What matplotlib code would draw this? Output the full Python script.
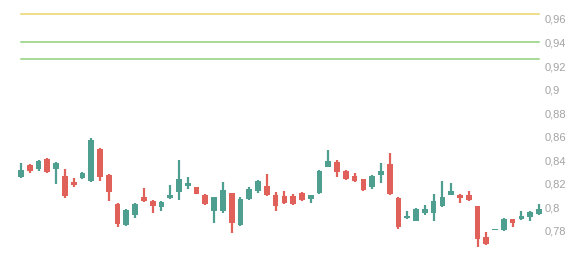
import numpy as np
import matplotlib
matplotlib.use("Agg")
import matplotlib.pyplot as plt
from matplotlib.ticker import FuncFormatter

opens = [.8255, .836, .832, .841, .832, .826, .821, .825, .822, .8496,
         .8275, .8026, .7847, .7934, .8088, .8054, .8003, .8077, .8128, .8181,
         .8168, .8102, .7963, .7963, .8122, .7849, .8071, .8136, .8179, .8102,
         .8094, .8094, .8122, .8071, .8122, .8338, .8383, .8309, .8264, .8241,
         .8168, .827, .8366, .8077, .7906, .7883, .7946, .7951, .8009, .81,
         .8105, .81, .8009, .7742, .7804, .7804, .790, .7895, .7912, .794]
highs = [.8374, .837, .840, .842, .838, .832, .8245, .830, .859, .850,
         .828, .8037, .798, .803, .816, .806, .805, .8187, .840, .8258,
         .8168, .811, .8088, .8213, .8122, .8088, .8168, .823, .828, .8128,
         .8134, .811, .813, .8105, .8315, .8485, .840, .8315, .8287, .8241,
         .827, .8372, .8457, .8083, .7963, .7991, .802, .8111, .8224, .8207,
         .811, .8139, .8009, .7787, .781, .7906, .790, .7968, .7968, .8026]
lows = [.8247, .829, .831, .829, .820, .808, .817, .824, .821, .822,
        .805, .7827, .7838, .791, .804, .7946, .7963, .807, .806, .8156,
        .811, .802, .786, .795, .7776, .7838, .806, .8117, .8094, .7969,
        .8026, .8014, .8049, .8031, .8111, .8338, .8253, .823, .8213, .8139,
        .8156, .8202, .8105, .7815, .7895, .7878, .7934, .7878, .8003, .81,
        .8031, .8054, .7662, .7674, .7804, .7798, .7827, .7889, .7883, .7934]
closes = [.8315, .831, .839, .830, .8375, .809, .8185, .8287, .857, .8258,
          .813, .7855, .7974, .8026, .8049, .8009, .8043, .8099, .8236, .8202,
          .8111, .8026, .8083, .8145, .7866, .8071, .8151, .8221, .810, .8009,
          .8031, .8026, .806, .810, .8304, .8389, .8298, .8241, .8224, .8145,
          .8264, .8304, .8111, .7832, .7923, .7986, .7986, .8054, .8088, .8139,
          .8077, .806, .773, .7685, .781, .790, .7861, .7923, .7957, .798]
levels = [0.964, 0.94, 0.926]
level_colors = ["#e8d66a", "#8fd07c", "#8fd07c"]

up_color = "#4e9f8f"
down_color = "#e0615a"

fig = plt.figure(figsize=(5.84, 2.58), dpi=100)
ax = fig.add_axes([0.0284, 0.0155, 0.902, 0.9564])

x = np.arange(len(opens))
o = np.array(opens)
c = np.array(closes)
colors = [up_color if cc >= oo else down_color for oo, cc in zip(o, c)]

ax.vlines(x, lows, highs, colors=colors, linewidth=1.6, zorder=2)
body = np.maximum(np.abs(c - o), 0.0012)
ax.bar(x, body, bottom=np.minimum(o, c), width=0.65, color=colors,
       linewidth=0, zorder=3)

for lv, col in zip(levels, level_colors):
    ax.plot([x[0], x[-1]], [lv, lv], color=col, linewidth=1.1, zorder=1)

ax.set_xlim(-0.5, len(opens) - 0.5)
ax.set_ylim(0.76, 0.97)
ax.set_yticks(np.arange(0.78, 0.961, 0.02))
ax.yaxis.set_major_formatter(FuncFormatter(
    lambda v, p: ("%.2f" % v).rstrip("0").replace(".", ",")))
ax.yaxis.tick_right()
ax.tick_params(axis="y", length=0, pad=1, labelsize=8, labelcolor="#a3a3a3")
for lbl in ax.get_yticklabels():
    lbl.set_fontfamily("Liberation Sans")
ax.set_xticks([])
for s in ax.spines.values():
    s.set_visible(False)

fig.savefig("out.png", dpi=100)
